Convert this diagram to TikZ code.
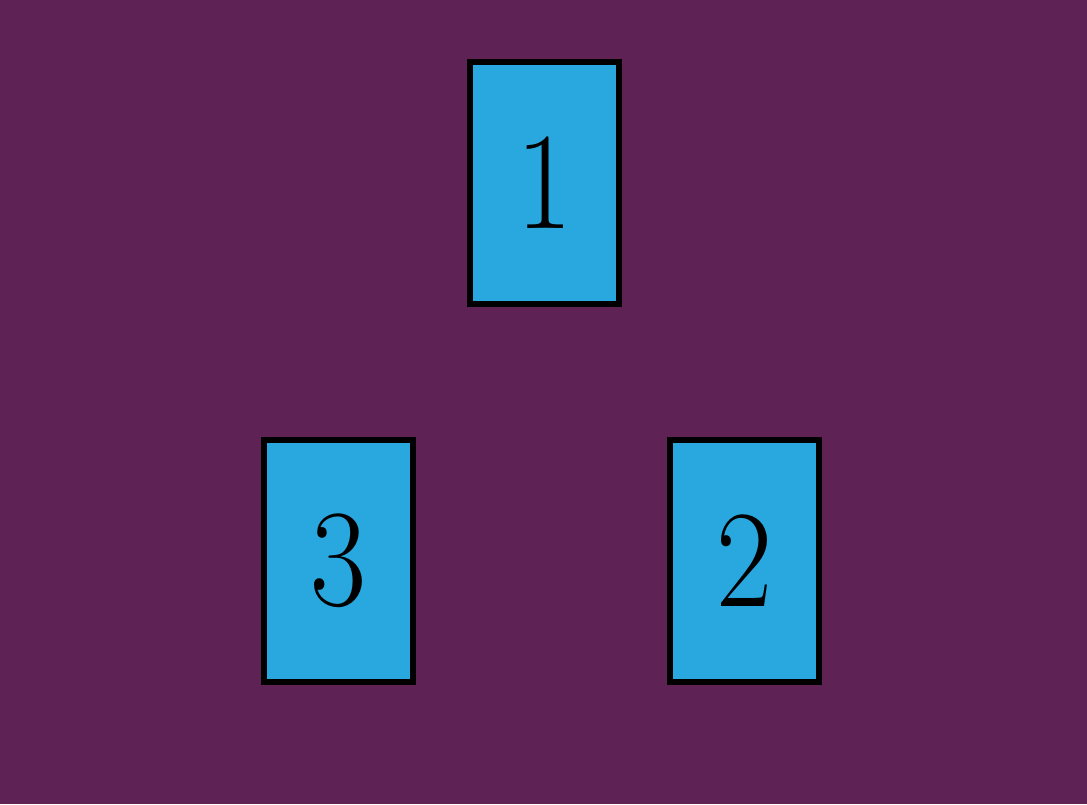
\documentclass[tikz,border=0pt]{standalone}
\usepackage{fontspec}
\usepackage{xcolor}
\definecolor{bgpurple}{HTML}{5E2254}
\definecolor{cardblue}{HTML}{29A8E0}

\begin{document}
\begin{tikzpicture}[line join=miter,x=0.02cm,y=-0.02cm,
    card/.style={draw=black,fill=cardblue,line width=3.3pt,minimum width=2.98cm,minimum height=4.84cm,inner sep=0pt,font=\fontsize{79}{79}\selectfont}]
                \fill [bgpurple] (0,0) rectangle (1087,804);
                \useasboundingbox (0,0) rectangle (1087,804);
                \node[card] (card1) at (544.5,183) {\scalebox{0.88}[1]{1}};
                \node[card] (card3) at (338.5,561) {\scalebox{0.88}[1]{3}};
                \node[card] (card2) at (744.5,561) {\scalebox{0.88}[1]{2}};
                \end{tikzpicture}
\end{document}
